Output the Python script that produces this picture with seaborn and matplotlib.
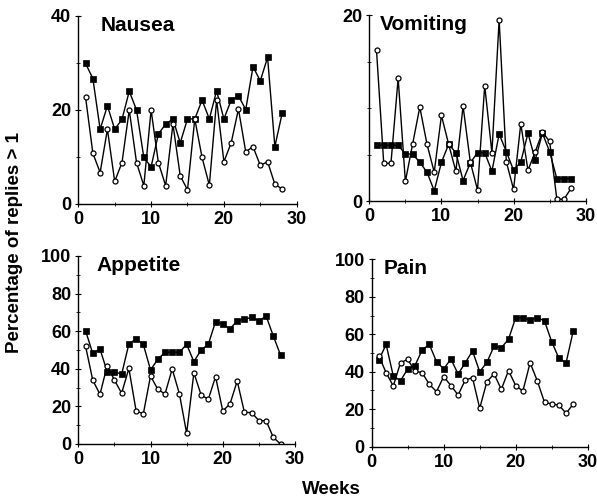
import matplotlib
matplotlib.use("Agg")
import matplotlib.pyplot as plt
import seaborn as sns
import numpy as np
from matplotlib.ticker import MultipleLocator

sns.set_theme(style="ticks")
plt.rcParams['font.family'] = ['Liberation Sans', 'DejaVu Sans']

weeks = list(range(1, 29))

nausea_filled = [29.9, 26.7, 15.9, 20.9, 15.9, 18.0, 24.0, 20.0, 9.9, 7.9, 14.9, 17.0, 18.1, 13.0,
                 18.1, 18.1, 22.1, 18.1, 24.1, 18.1, 22.1, 23.0, 20.1, 29.2, 26.2, 31.2, 12.2, 19.3]
nausea_open = [22.7, 10.8, 6.7, 15.9, 4.8, 8.8, 20.0, 8.8, 3.9, 20.0, 8.8, 3.9, 17.0, 6.0,
               3.0, 18.1, 9.9, 4.0, 22.1, 9.0, 13.0, 20.2, 11.1, 12.2, 8.2, 9.0, 4.2, 3.2]

vomit_filled = [6.0, 6.0, 6.0, 6.0, 5.05, 5.05, 4.16, 3.1, 1.1, 4.16, 6.1, 5.2, 2.2, 4.1,
                5.2, 5.2, 3.2, 7.2, 5.3, 3.3, 4.2, 7.3, 4.4, 7.3, 5.3, 2.4, 2.4, 2.4]
vomit_open = [16.2, 4.05, 4.05, 13.2, 2.1, 6.1, 10.1, 6.1, 3.1, 9.2, 6.1, 3.2, 10.2, 4.2,
              1.2, 12.4, 5.2, 19.5, 4.2, 1.25, 8.3, 3.3, 5.3, 7.4, 6.4, 0.2, 0.2, 1.4]

appetite_filled = [60.3, 48.2, 50.5, 38.5, 38.5, 37.1, 53.2, 55.9, 53.0, 39.4, 45.0, 48.8, 48.8, 48.8,
                   53.0, 43.8, 50.0, 53.0, 65.1, 63.7, 61.2, 65.6, 66.3, 67.4, 65.4, 68.1, 57.4, 47.3]
appetite_open = [52.1, 34.0, 26.4, 41.7, 34.0, 27.0, 40.2, 17.7, 16.0, 36.2, 29.1, 26.6, 39.9, 26.6,
                 5.7, 37.9, 26.1, 23.8, 35.8, 17.6, 21.3, 33.5, 16.8, 16.7, 12.4, 12.4, 3.5, 0.0]

pain_filled = [46.3, 54.6, 37.7, 35.2, 41.5, 43.2, 51.6, 54.6, 45.4, 41.5, 46.8, 38.8, 44.8, 51.1,
               40.0, 45.0, 53.7, 52.8, 57.3, 68.9, 68.9, 67.6, 68.9, 67.1, 56.0, 47.2, 44.8, 61.9]
pain_open = [48.4, 39.5, 32.4, 44.8, 46.6, 40.4, 39.5, 33.3, 29.4, 37.4, 32.6, 27.6, 35.6, 36.8,
             20.5, 34.7, 38.8, 30.6, 40.6, 32.6, 29.7, 44.8, 35.1, 23.7, 22.8, 22.2, 17.8, 22.8]

titles = ["Nausea", "Vomiting", "Appetite", "Pain"]
filled = [nausea_filled, vomit_filled, appetite_filled, pain_filled]
opened = [nausea_open, vomit_open, appetite_open, pain_open]
ylims = [(0, 40), (0, 20), (0, 100), (0, 100)]
ymajor = [20, 20, 20, 20]
yminor = [10, 5, 10, 10]

W, H = 597, 499
boxes = [  # left, top, right, bottom in pixels
    (78.3, 16, 296.7, 204),
    (369.3, 15, 585.7, 201),
    (78.3, 256, 295, 444),
    (371.7, 259.3, 587.7, 446.7),
]
title_x = [0.10, 0.05, 0.082, 0.055]

fig = plt.figure(figsize=(W / 100, H / 100), dpi=100)
for i in range(4):
    l, t, r, b = boxes[i]
    ax = fig.add_axes([l / W, 1 - b / H, (r - l) / W, (b - t) / H])
    sns.lineplot(x=weeks, y=filled[i], ax=ax, color='black', lw=1.0, marker='s',
                 markersize=4.0, markerfacecolor='black', markeredgecolor='black',
                 markeredgewidth=0.5)
    sns.lineplot(x=weeks, y=opened[i], ax=ax, color='black', lw=1.0, marker='o',
                 markersize=3.6, markerfacecolor='white', markeredgecolor='black',
                 markeredgewidth=0.9)
    ax.set_xlim(0, 30)
    ax.set_ylim(*ylims[i])
    ax.xaxis.set_major_locator(MultipleLocator(10))
    ax.xaxis.set_minor_locator(MultipleLocator(5))
    ax.yaxis.set_major_locator(MultipleLocator(ymajor[i]))
    ax.yaxis.set_minor_locator(MultipleLocator(yminor[i]))
    if i == 1:
        ax.set_yticks([0, 20])
    for s in ['top', 'right']:
        ax.spines[s].set_visible(False)
    for s in ['left', 'bottom']:
        ax.spines[s].set_linewidth(1.0)
        ax.spines[s].set_color('black')
    ax.tick_params(which='major', direction='inout', length=4, width=0.8, colors='black',
                   labelsize=13, pad=3)
    ax.tick_params(which='minor', direction='inout', length=2.5, width=0.6, colors='black')
    for lab in ax.get_xticklabels() + ax.get_yticklabels():
        lab.set_fontweight('bold')
    ax.set_xlabel('')
    ax.set_ylabel('')
    ax.text(title_x[i], 1.0, titles[i], transform=ax.transAxes, va='top', ha='left',
            fontsize=15, color='black', fontweight='bold')

fig.text(0.025, 0.515, 'Percentage of replies > 1', rotation=90, ha='center', va='center',
         fontsize=13.5, color='black', fontweight='bold')
fig.text(331 / W, 1 - 490 / H, 'Weeks', ha='center', va='center', fontsize=13.5,
         color='black', fontweight='bold')

fig.savefig('out.png', dpi=100)
